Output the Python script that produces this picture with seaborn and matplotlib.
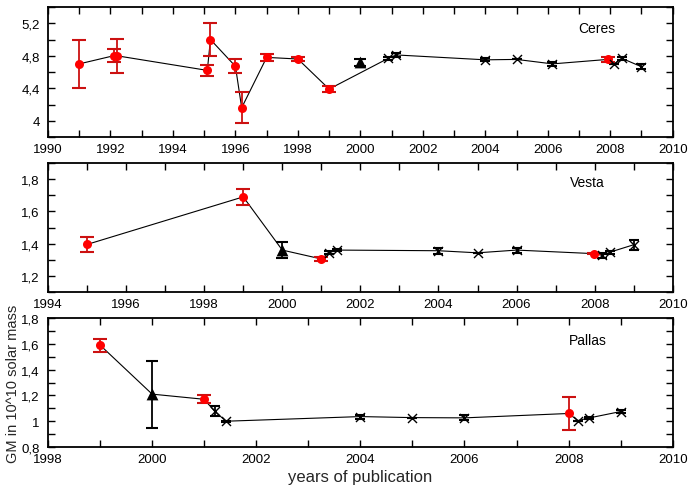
import matplotlib
matplotlib.use("Agg")
import matplotlib.pyplot as plt
import seaborn as sns
import pandas as pd
from matplotlib.ticker import MultipleLocator, FuncFormatter

sns.set_theme(style="ticks")
plt.rcParams["font.family"] = ["Liberation Sans", "DejaVu Sans"]

# Kind of determination: "o" red circle, "^" triangle, "x" cross
ceres_year = [1991.0, 1992.1, 1992.2, 1995.1, 1995.2, 1996.0, 1996.2, 1997.0, 1998.0, 1999.0,
              2000.0, 2000.9, 2001.15, 2004.0, 2005.0, 2006.15, 2007.92, 2008.13, 2008.36, 2009.0]
ceres_gm = [4.70, 4.80, 4.80, 4.62, 5.00, 4.67, 4.16, 4.78, 4.76, 4.39,
            4.72, 4.77, 4.81, 4.75, 4.755, 4.70, 4.755, 4.70, 4.77, 4.665]
ceres_err = [0.30, 0.08, 0.21, 0.07, 0.20, 0.085, 0.19, 0.045, 0.02, 0.04,
             0.04, 0.02, 0.02, 0.02, 0.0, 0.02, 0.03, 0.0, 0.02, 0.03]
ceres_kind = ["o"] * 10 + ["^"] + ["x"] * 5 + ["o"] + ["x"] * 3
ceres_linked = [True] * 10 + [False] + [True] * 9

vesta_year = [1995.0, 1999.0, 2000.0, 2001.0, 2001.2, 2001.4, 2004.0, 2005.0, 2006.0,
              2007.98, 2008.2, 2008.39, 2009.0]
vesta_gm = [1.395, 1.69, 1.36, 1.305, 1.345, 1.36, 1.356, 1.343, 1.36,
            1.338, 1.327, 1.347, 1.393]
vesta_err = [0.045, 0.05, 0.05, 0.01, 0.01, 0.005, 0.02, 0.0, 0.015,
             0.005, 0.015, 0.01, 0.03]
vesta_kind = ["o", "o", "^", "o", "x", "x", "x", "x", "x", "o", "x", "x", "x"]
vesta_linked = [True] * 13

pallas_year = [1999.0, 2000.0, 2001.0, 2001.2, 2001.42, 2004.0, 2005.0, 2006.0,
               2008.0, 2008.18, 2008.39, 2009.0]
pallas_gm = [1.59, 1.21, 1.17, 1.077, 1.0, 1.036, 1.028, 1.026,
             1.06, 1.005, 1.025, 1.075]
pallas_err = [0.05, 0.26, 0.03, 0.04, 0.005, 0.015, 0.0, 0.02,
              0.13, 0.0, 0.005, 0.015]
pallas_kind = ["o", "^", "o", "x", "x", "x", "x", "x", "o", "x", "x", "x"]
pallas_linked = [True] * 12

panels = [
    ("Ceres", ceres_year, ceres_gm, ceres_err, ceres_kind, ceres_linked,
     (1990, 2010), (3.8, 5.4), 0.4, 0.2, (0.0698, 0.7178, 0.908, 0.2658)),
    ("Vesta", vesta_year, vesta_gm, vesta_err, vesta_kind, vesta_linked,
     (1994, 2010), (1.1, 1.9), 0.2, 0.1, (0.0698, 0.4008, 0.908, 0.2638)),
    ("Pallas", pallas_year, pallas_gm, pallas_err, pallas_kind, pallas_linked,
     (1998, 2010), (0.8, 1.8), 0.2, 0.1, (0.0698, 0.0838, 0.908, 0.2638)),
]

name_pos = {"Ceres": (0.878, 0.84), "Vesta": (0.864, 0.853), "Pallas": (0.864, 0.83)}

comma = FuncFormatter(lambda v, p: f"{v:g}".replace(".", ","))

fig = plt.figure(figsize=(6.88, 4.89), dpi=100)
fig.patch.set_facecolor("white")

for name, yr, gm, err, kind, linked, xl, yl, ymaj, ymin, rect in panels:
    ax = fig.add_axes(rect)
    ax.set_facecolor("white")
    df = pd.DataFrame({"year": yr, "gm": gm, "err": err, "kind": kind, "linked": linked})

    line_df = df[df["linked"]]
    sns.lineplot(data=line_df, x="year", y="gm", sort=False, estimator=None,
                 color="black", linewidth=0.8, ax=ax, zorder=2)

    for k, ecol, mcol, ms, cap in [("o", "#cc1111", "#ff0000", 6.5, 5.0),
                                   ("^", "black", "black", 8.5, 4.0),
                                   ("x", "black", "black", 6.5, 3.5)]:
        sub = df[df["kind"] == k]
        if sub.empty:
            continue
        ax.errorbar(sub["year"], sub["gm"], yerr=sub["err"], fmt="none",
                    ecolor=ecol, elinewidth=1.3, capsize=cap, capthick=1.5, zorder=3)
        sns.scatterplot(data=sub, x="year", y="gm", marker=k, color=mcol,
                        s=ms ** 2, linewidth=1.0 if k == "x" else 0,
                        edgecolor=mcol, ax=ax, zorder=4, legend=False)

    ax.set_xlim(*xl)
    ax.set_ylim(*yl)
    ax.xaxis.set_major_locator(MultipleLocator(2))
    ax.xaxis.set_minor_locator(MultipleLocator(1))
    ax.yaxis.set_major_locator(MultipleLocator(ymaj))
    ax.yaxis.set_minor_locator(MultipleLocator(ymin))
    ax.yaxis.set_major_formatter(comma)
    ax.tick_params(which="both", direction="in", top=True, right=True,
                   length=5, width=1, labelsize=9.5, colors="black")
    ax.tick_params(axis="x", which="both", pad=4.5)
    ax.tick_params(axis="y", which="both", pad=6)
    for sp in ax.spines.values():
        sp.set_linewidth(1.3)
        sp.set_color("black")
    ax.set_xlabel("")
    ax.set_ylabel("")
    tx, ty = name_pos[name]
    ax.text(tx, ty, name, transform=ax.transAxes, ha="center", va="center",
            fontsize=10, color="black")

    if name == "Pallas":
        ax.set_xlabel("years of publication", fontsize=12, labelpad=3)
        ax.set_ylabel("GM in 10^10 solar mass", fontsize=10.5, labelpad=1)

fig.savefig("out.png", dpi=100, facecolor="white")
